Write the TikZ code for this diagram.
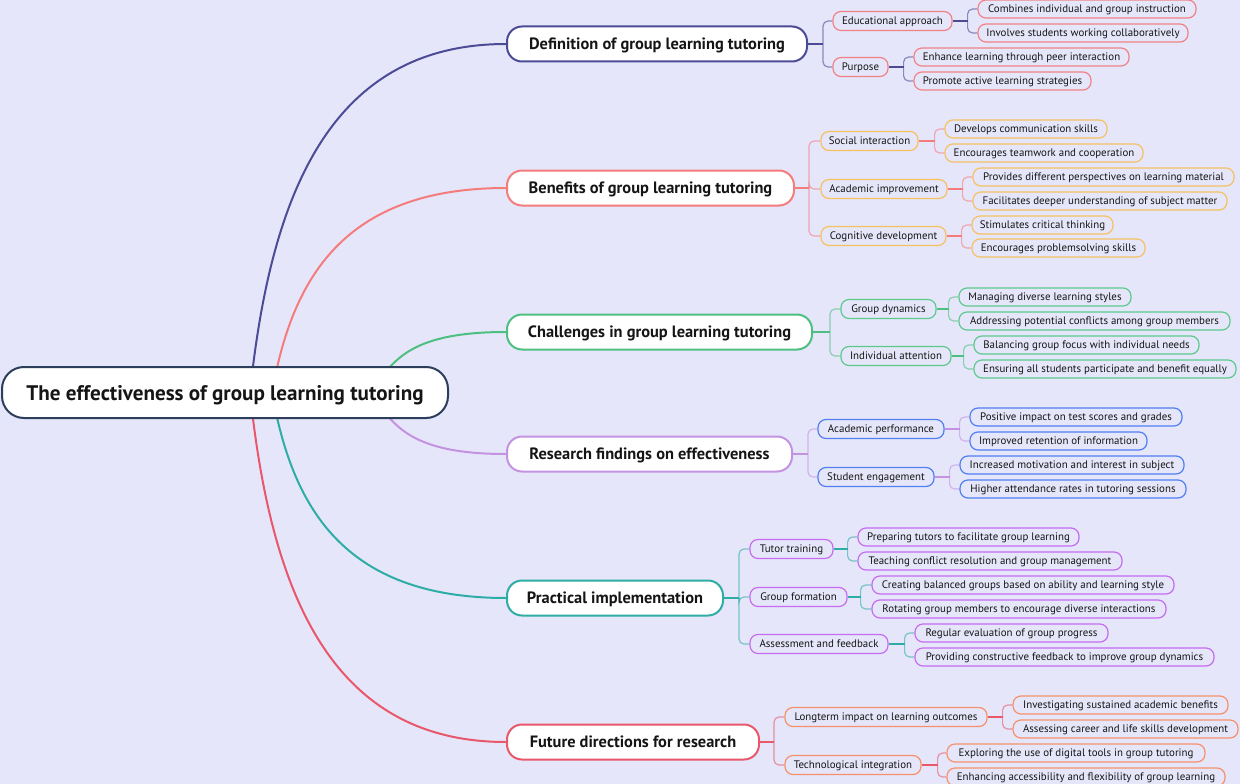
\documentclass[tikz,border=0pt]{standalone}
\usepackage{fontspec}
\setmainfont{PT Sans}
\usetikzlibrary{calc,backgrounds}
\pgfdeclarelayer{lines}
\pgfsetlayers{background,lines,main}
\definecolor{bgc}{HTML}{E6E6FA}
\definecolor{rootc}{HTML}{2C3E5C}
\definecolor{txt}{HTML}{151515}
\definecolor{ca}{HTML}{4B4B96}
\definecolor{cb}{HTML}{F47C7C}
\definecolor{cc}{HTML}{4DBF81}
\definecolor{cd}{HTML}{C392E0}
\definecolor{ce}{HTML}{2EADA5}
\definecolor{cf}{HTML}{E8576A}
\definecolor{sa}{HTML}{F08285}
\definecolor{sb}{HTML}{F5C162}
\definecolor{sc}{HTML}{5DC98D}
\definecolor{sd}{HTML}{4F7FF3}
\definecolor{se}{HTML}{C56CF0}
\definecolor{sf}{HTML}{F6906B}
\tikzset{
  rootbox/.style={draw=rootc, fill=white, line width=2pt, rounded corners=22pt,
    minimum height=51pt, minimum width=446pt, inner sep=0pt, text=txt,
    text height=17pt, text depth=2pt,
    font=\bfseries\fontsize{21.1}{24}\selectfont},
  branchbox/.style={fill=white, line width=2pt, rounded corners=15pt,
    minimum height=35pt, inner xsep=4pt, inner ysep=0pt, text=txt,
    text height=13.2pt, text depth=1.4pt,
    font=\bfseries\fontsize{16.4}{19}\selectfont},
  subbox/.style={fill=bgc, line width=1.2pt, rounded corners=8pt,
    minimum height=18pt, inner xsep=3pt, inner ysep=0pt, text=txt,
    text height=8.8pt, text depth=1.6pt,
    font=\fontsize{10.9}{13}\selectfont},
  midbox/.style={subbox, minimum height=19pt},
  stubline/.style={line width=2pt},
  spineline/.style={line width=1.2pt, rounded corners=5pt, draw opacity=0.6},
  mainline/.style={line width=2pt},
}
% name, x1, x2, cy, colour, text
\newcommand\bnode[6]{\node[branchbox, draw=#5, minimum width={#3-#2}] (#1) at ({(#2+#3)/2},#4) {#6};}
\newcommand\mnode[6]{\node[midbox, draw=#5, minimum width={#3-#2}] (#1) at ({(#2+#3)/2},#4) {#6};}
\newcommand\lnode[6]{\node[subbox, draw=#5, minimum width={#3-#2}] (#1) at ({(#2+#3)/2},#4) {#6};}
% parent, spine offset, colour, children
\newcommand\fork[4]{%
  \draw[stubline, draw=#3] (#1.east) -- ++(#2,0);
  \foreach \c in {#4} {\draw[spineline, draw=#3] ($(#1.east)+(#2,0)$) |- (\c.west);}
}
% start offset from root centre, branch node, colour
\newcommand\mainbranch[3]{%
  \coordinate (s#2) at ($(root.center)+(#1,0)$);
  \coordinate (k#2) at (s#2 |- #2.west);
  \draw[mainline, draw=#3] (s#2) .. controls ($(s#2)!0.55!(k#2)+(20,0)$) and ($(#2.west)!0.7!(k#2)$) .. (#2.west);
}
\begin{document}
\begin{tikzpicture}[x=1pt, y=-1pt]
\begin{scope}[on background layer]
  \fill[bgc] (0,0) rectangle (1240,784);
\end{scope}
\useasboundingbox (0,0) rectangle (1240,784);

\node[rootbox] (root) at (225,392.5) {The effectiveness of group learning tutoring};

\bnode{def}{507}{807}{44}{ca}{Definition of group learning tutoring}
\bnode{ben}{507}{794}{188}{cb}{Benefits of group learning tutoring}
\bnode{cha}{507}{812}{332}{cc}{Challenges in group learning tutoring}
\bnode{res}{507}{792}{454}{cd}{Research findings on effectiveness}
\bnode{pra}{507}{723}{598}{ce}{Practical implementation}
\bnode{fut}{507}{759}{742}{cf}{Future directions for research}

\mnode{edu}{833}{952}{21}{sa}{Educational approach}
\mnode{pur}{833}{888}{67}{sa}{Purpose}
\mnode{soc}{821}{918}{141}{sb}{Social interaction}
\mnode{aca}{821}{947}{189}{sb}{Academic improvement}
\mnode{cog}{821}{946}{236}{sb}{Cognitive development}
\mnode{gdy}{841}{936}{309}{sc}{Group dynamics}
\mnode{ind}{841}{951}{356}{sc}{Individual attention}
\mnode{ape}{818}{944}{429}{sd}{Academic performance}
\mnode{sen}{818}{934}{477}{sd}{Student engagement}
\mnode{tut}{750}{833}{549}{se}{Tutor training}
\mnode{gfo}{750}{847}{597}{se}{Group formation}
\mnode{ass}{750}{888}{644}{se}{Assessment and feedback}
\mnode{lon}{785}{987}{717}{sf}{Longterm impact on learning outcomes}
\mnode{tec}{785}{921}{765}{sf}{Technological integration}

\lnode{la1}{978}{1196}{9}{sa}{Combines individual and group instruction}
\lnode{la2}{978}{1188}{33}{sa}{Involves students working collaboratively}
\lnode{la3}{914}{1129}{57}{sa}{Enhance learning through peer interaction}
\lnode{la4}{914}{1091}{81}{sa}{Promote active learning strategies}
\lnode{lb1}{945}{1107}{129}{sb}{Develops communication skills}
\lnode{lb2}{945}{1143}{153}{sb}{Encourages teamwork and cooperation}
\lnode{lb3}{973}{1234}{177}{sb}{Provides different perspectives on learning material}
\lnode{lb4}{973}{1227}{201}{sb}{Facilitates deeper understanding of subject matter}
\lnode{lb5}{972}{1113}{225}{sb}{Stimulates critical thinking}
\lnode{lb6}{972}{1145}{248}{sb}{Encourages problemsolving skills}
\lnode{lc1}{959}{1131}{297}{sc}{Managing diverse learning styles}
\lnode{lc2}{959}{1230}{321}{sc}{Addressing potential conflicts among group members}
\lnode{lc3}{974}{1199}{345}{sc}{Balancing group focus with individual needs}
\lnode{lc4}{974}{1236}{369}{sc}{Ensuring all students participate and benefit equally}
\lnode{ld1}{970}{1182}{417}{sd}{Positive impact on test scores and grades}
\lnode{ld2}{970}{1147}{441}{sd}{Improved retention of information}
\lnode{ld3}{960}{1184}{465}{sd}{Increased motivation and interest in subject}
\lnode{ld4}{960}{1186}{489}{sd}{Higher attendance rates in tutoring sessions}
\lnode{le1}{858}{1079}{537}{se}{Preparing tutors to facilitate group learning}
\lnode{le2}{858}{1122}{561}{se}{Teaching conflict resolution and group management}
\lnode{le3}{872}{1174}{585}{se}{Creating balanced groups based on ability and learning style}
\lnode{le4}{872}{1166}{609}{se}{Rotating group members to encourage diverse interactions}
\lnode{le5}{915}{1108}{633}{se}{Regular evaluation of group progress}
\lnode{le6}{915}{1214}{657}{se}{Providing constructive feedback to improve group dynamics}
\lnode{lf1}{1013}{1228}{705}{sf}{Investigating sustained academic benefits}
\lnode{lf2}{1013}{1238}{729}{sf}{Assessing career and life skills development}
\lnode{lf3}{947}{1205}{753}{sf}{Exploring the use of digital tools in group tutoring}
\lnode{lf4}{947}{1225}{777}{sf}{Enhancing accessibility and flexibility of group learning}

\begin{pgfonlayer}{lines}
\mainbranch{25}{def}{ca}
\mainbranch{47}{ben}{cb}
\mainbranch{147}{cha}{cc}
\mainbranch{147}{res}{cd}
\mainbranch{47}{pra}{ce}
\mainbranch{25}{fut}{cf}

\fork{def}{15}{ca}{edu,pur}
\fork{edu}{15}{ca}{la1,la2}
\fork{pur}{15}{ca}{la3,la4}
\fork{ben}{14}{cb}{soc,aca,cog}
\fork{soc}{16}{cb}{lb1,lb2}
\fork{aca}{15}{cb}{lb3,lb4}
\fork{cog}{15}{cb}{lb5,lb6}
\fork{cha}{17}{cc}{gdy,ind}
\fork{gdy}{12}{cc}{lc1,lc2}
\fork{ind}{12}{cc}{lc3,lc4}
\fork{res}{15}{cd}{ape,sen}
\fork{ape}{15}{cd}{ld1,ld2}
\fork{sen}{15}{cd}{ld3,ld4}
\fork{pra}{15}{ce}{tut,gfo,ass}
\fork{tut}{14}{ce}{le1,le2}
\fork{gfo}{13}{ce}{le3,le4}
\fork{ass}{16}{ce}{le5,le6}
\fork{fut}{14}{cf}{lon,tec}
\fork{lon}{15}{cf}{lf1,lf2}
\fork{tec}{16}{cf}{lf3,lf4}
\end{pgfonlayer}
\end{tikzpicture}
\end{document}
